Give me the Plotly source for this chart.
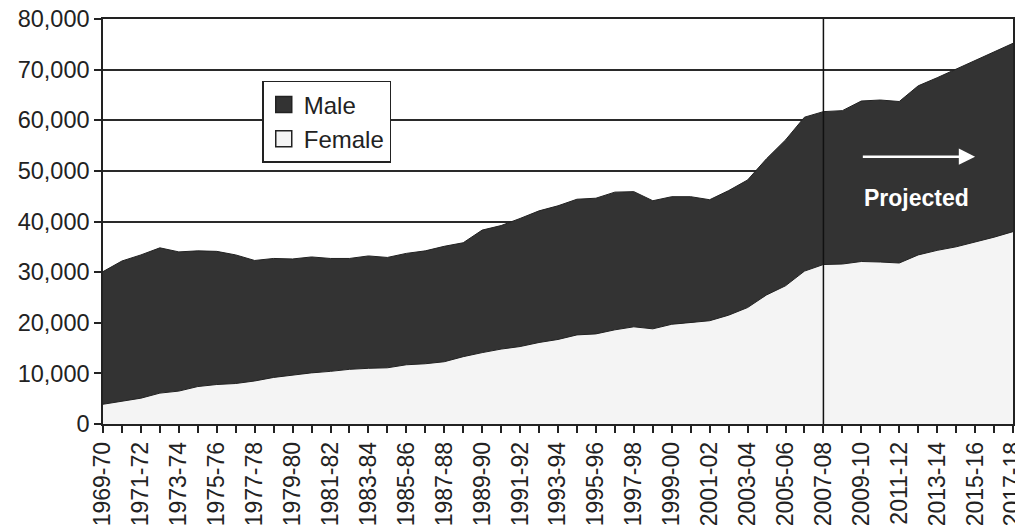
import plotly.graph_objects as go

years = ["1969-70", "1970-71", "1971-72", "1972-73", "1973-74", "1974-75", "1975-76",
         "1976-77", "1977-78", "1978-79", "1979-80", "1980-81", "1981-82", "1982-83",
         "1983-84", "1984-85", "1985-86", "1986-87", "1987-88", "1988-89", "1989-90",
         "1990-91", "1991-92", "1992-93", "1993-94", "1994-95", "1995-96", "1996-97",
         "1997-98", "1998-99", "1999-00", "2000-01", "2001-02", "2002-03", "2003-04",
         "2004-05", "2005-06", "2006-07", "2007-08", "2008-09", "2009-10", "2010-11",
         "2011-12", "2012-13", "2013-14", "2014-15", "2015-16", "2016-17", "2017-18"]

female = [3900, 4500, 5100, 6100, 6500, 7400, 7800, 8000, 8500, 9200,
          9700, 10100, 10400, 10800, 11000, 11100, 11700, 11900, 12300, 13300,
          14100, 14800, 15300, 16100, 16700, 17600, 17800, 18600, 19200, 18800,
          19700, 20100, 20400, 21500, 23000, 25500, 27300, 30200, 31500, 31600,
          32100, 32000, 31800, 33400, 34300, 35000, 35900, 36900, 38000]

male = [26200, 27700, 28300, 28700, 27500, 26800, 26300, 25400, 23800, 23500,
        22900, 22900, 22300, 21900, 22200, 21800, 22000, 22300, 22800, 22500,
        24200, 24400, 25300, 26000, 26400, 26800, 26800, 27200, 26700, 25300,
        25200, 24800, 23900, 24600, 25200, 26900, 28800, 30400, 30200, 30300,
        31700, 32000, 31900, 33400, 34100, 35100, 35900, 36700, 37200]

tick_labels = [y if i % 2 == 0 else "" for i, y in enumerate(years)]
y_ticks = [0, 10000, 20000, 30000, 40000, 50000, 60000, 70000, 80000]

projection_start = "2007-08"

FONT = "Liberation Sans, Arial, sans-serif"
MALE_C = "#333333"
FEMALE_C = "#f4f4f4"
EDGE = "#222222"

fig = go.Figure()
fig.add_trace(go.Scatter(
    x=years, y=female, name="Female", stackgroup="one", mode="lines",
    line=dict(color=EDGE, width=1), fillcolor=FEMALE_C, showlegend=False,
))
fig.add_trace(go.Scatter(
    x=years, y=male, name="Male", stackgroup="one", mode="lines",
    line=dict(color=EDGE, width=1), fillcolor=MALE_C, showlegend=False,
))
# legend entries with square swatches
fig.add_trace(go.Scatter(
    x=[None], y=[None], name="Male", mode="markers",
    marker=dict(symbol="square", size=17, color=MALE_C, line=dict(color=EDGE, width=1.5)),
))
fig.add_trace(go.Scatter(
    x=[None], y=[None], name="Female", mode="markers",
    marker=dict(symbol="square", size=17, color=FEMALE_C, line=dict(color=EDGE, width=1.5)),
))

ps = years.index(projection_start)
fig.add_shape(type="line", xref="x", yref="paper", x0=ps, x1=ps, y0=0, y1=1,
              line=dict(color="#111111", width=1.5), layer="above")

fig.add_annotation(x=46, y=52800, ax=40, ay=52800, xref="x", yref="y",
                   axref="x", ayref="y", text="", showarrow=True,
                   arrowhead=2, arrowsize=1.3, arrowwidth=2.5, arrowcolor="white")
fig.add_annotation(x=42.9, y=44600, xref="x", yref="y", text="<b>Projected</b>",
                   showarrow=False, font=dict(family=FONT, size=23, color="white"))

fig.update_layout(
    width=1015, height=531,
    margin=dict(l=103, r=2, t=19, b=107),
    paper_bgcolor="white", plot_bgcolor="white",
    font=dict(family=FONT, size=23, color="#222222"),
    showlegend=True,
    legend=dict(x=0.175, y=0.847, xanchor="left", yanchor="top",
                bgcolor="white", bordercolor=EDGE, borderwidth=1.5,
                font=dict(family=FONT, size=24, color="#222222"),
                traceorder="normal", tracegroupgap=0, itemwidth=30),
)
fig.update_xaxes(
    type="category", range=[0, len(years) - 1], automargin=False,
    tickmode="array", tickvals=years, ticktext=tick_labels, tickangle=-90,
    ticks="outside", ticklen=7, tickwidth=1.5, tickcolor=EDGE,
    showline=True, linecolor=EDGE, linewidth=1.5, mirror=True,
    showgrid=False, zeroline=False,
    tickfont=dict(family=FONT, size=23, color="#222222"),
)
fig.update_yaxes(
    range=[0, 80000], tickmode="array", tickvals=y_ticks, tickformat=",",
    automargin=False,
    ticks="outside", ticklen=7, tickwidth=1.5, tickcolor=EDGE,
    showline=True, linecolor=EDGE, linewidth=1.5, mirror=True,
    showgrid=True, gridcolor="#2a2a2a", gridwidth=1.7, zeroline=False,
    tickfont=dict(family=FONT, size=23.5, color="#222222"),
)

fig.write_html(
    "out.html",
    config={"displayModeBar": False},
    post_script="document.body.style.margin='0';document.body.style.overflow='hidden';",
)
